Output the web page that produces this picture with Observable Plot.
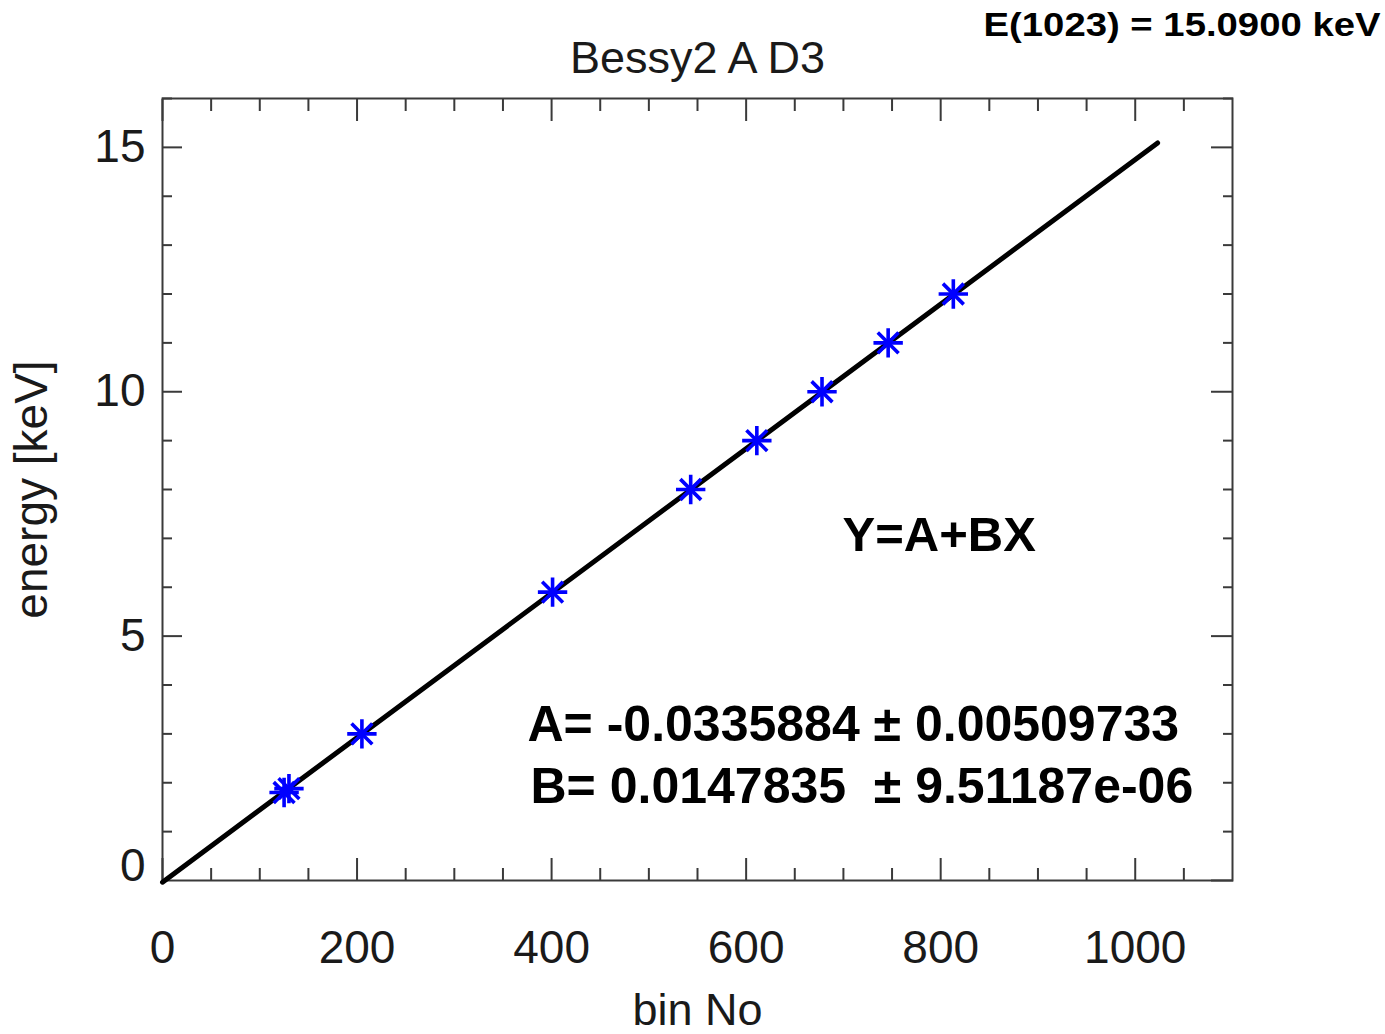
<!DOCTYPE html>
<html>
<head>
<meta charset="utf-8">
<script src="https://cdn.jsdelivr.net/npm/d3@7"></script>
<script src="https://cdn.jsdelivr.net/npm/@observablehq/plot@0.6"></script>
<style>
  html, body { margin: 0; padding: 0; background: #fff; overflow: hidden; }
  #chart svg { display: block; }
  #chart text { white-space: pre; }
</style>
</head>
<body>
<div id="chart"></div>
<script>
// ---- data ----
const binNo  = [125, 130, 205, 401, 543, 611, 678, 746, 813];
const energy = [1.80, 1.88, 3.0, 5.9, 8.0, 9.0, 10.0, 11.0, 12.0];

const fitBin    = [0, 1023];
const fitEnergy = [-0.0335884, 15.0900];

const xMajorTicks = [0, 200, 400, 600, 800, 1000];
const xMinorTicks = [50, 100, 150, 250, 300, 350, 450, 500, 550, 650, 700, 750, 850, 900, 950, 1050];
const yMajorTicks = [0, 5, 10, 15];
const yMinorTicks = [1, 2, 3, 4, 6, 7, 8, 9, 11, 12, 13, 14, 16];

const titleText  = "Bessy2 A D3";
const xLabelText = "bin No";
const yLabelText = "energy [keV]";
const topNote    = "E(1023) = 15.0900 keV";
const modelText  = "Y=A+BX";
const paramA     = "A= -0.0335884 \u00b1 0.00509733";
const paramB     = "B= 0.0147835\u00a0 \u00b1 9.51187e-06";

const points = binNo.map((b, i) => ({bin: b, energy: energy[i]}));
const fit = fitBin.map((b, i) => ({bin: b, energy: fitEnergy[i]}));

const FONT = "'Liberation Sans', Arial, Helvetica, sans-serif";
const TXT = "#1a1a1a";
const AX = "#3a3a3a";
const fmt = d => String(d);

const yLabelTicksUpper = yMajorTicks.filter(d => d !== 0);
const yLabelTicksZero = yMajorTicks.filter(d => d === 0);

const plot = Plot.plot({
  width: 1385,
  height: 1034,
  marginLeft: 162,
  marginRight: 153,
  marginTop: 98,
  marginBottom: 154,
  style: {fontFamily: FONT, color: AX, background: "#fff"},
  x: {domain: [0, 1100], label: null},
  y: {domain: [0, 16], label: null},
  marks: [
    Plot.frame({stroke: AX, strokeWidth: 2}),
    // bottom axis
    Plot.axisX(xMajorTicks, {anchor: "bottom", tickSize: -22, tickPadding: 72, tickFormat: fmt, fontSize: 46, fill: TXT, stroke: AX, strokeWidth: 2, label: null}),
    Plot.axisX(xMinorTicks, {anchor: "bottom", tickSize: -12, tickFormat: () => "", stroke: AX, strokeWidth: 2, label: null}),
    // top axis (mirrored ticks)
    Plot.axisX(xMajorTicks, {anchor: "top", tickSize: -22, tickFormat: () => "", stroke: AX, strokeWidth: 2, label: null}),
    Plot.axisX(xMinorTicks, {anchor: "top", tickSize: -12, tickFormat: () => "", stroke: AX, strokeWidth: 2, label: null}),
    // left axis
    Plot.axisY(yLabelTicksUpper, {anchor: "left", tickSize: -20, tickPadding: 37, tickFormat: fmt, fontSize: 46, fill: TXT, stroke: AX, strokeWidth: 2, label: null}),
    Plot.axisY(yLabelTicksZero, {anchor: "left", tickSize: 0, tickPadding: 17, tickFormat: fmt, dy: -14, fontSize: 46, fill: TXT, label: null}),
    Plot.axisY(yMinorTicks, {anchor: "left", tickSize: -10, tickFormat: () => "", stroke: AX, strokeWidth: 2, label: null}),
    // right axis (mirrored ticks)
    Plot.axisY(yMajorTicks, {anchor: "right", tickSize: -22, tickFormat: () => "", stroke: AX, strokeWidth: 2, label: null}),
    Plot.axisY(yMinorTicks, {anchor: "right", tickSize: -10, tickFormat: () => "", stroke: AX, strokeWidth: 2, label: null}),
    // fit line
    Plot.line(fit, {x: "bin", y: "energy", stroke: "#000", strokeWidth: 5}),
    // data points (asterisks)
    Plot.dot(points, {x: "bin", y: "energy", symbol: "plus", r: 9.5, stroke: "#0000ff", strokeWidth: 3.6}),
    Plot.dot(points, {x: "bin", y: "energy", symbol: "times", r: 9.5, stroke: "#0000ff", strokeWidth: 3.6}),
    // title and axis labels
    Plot.text([titleText], {frameAnchor: "top", dy: -26, lineAnchor: "bottom", fontSize: 45, fill: TXT, text: d => d}),
    Plot.text([xLabelText], {frameAnchor: "bottom", dy: 144, lineAnchor: "bottom", fontSize: 45, fill: TXT, text: d => d}),
    Plot.text([yLabelText], {frameAnchor: "left", dx: -130, rotate: -90, textAnchor: "middle", lineAnchor: "middle", fontSize: 46, fill: TXT, text: d => d}),
    // annotations
    Plot.text([topNote], {frameAnchor: "top-right", dx: 148, dy: -63, textAnchor: "end", lineAnchor: "bottom", fontSize: 33, fontWeight: "bold", fill: "#000", text: d => d, className: "topnote"}),
    Plot.text([modelText], {frameAnchor: "top-left", dx: 680, dy: 452, textAnchor: "start", lineAnchor: "bottom", fontSize: 49, fontWeight: "bold", fill: "#000", text: d => d}),
    Plot.text([paramA], {frameAnchor: "top-left", dx: 365, dy: 642, textAnchor: "start", lineAnchor: "bottom", fontSize: 50, fontWeight: "bold", fill: "#000", text: d => d}),
    Plot.text([paramB], {frameAnchor: "top-left", dx: 368, dy: 704, textAnchor: "start", lineAnchor: "bottom", fontSize: 50, fontWeight: "bold", fill: "#000", text: d => d})
  ]
});
// stretch the top note horizontally to match the reference width
plot.querySelectorAll(".topnote text").forEach(t => {
  t.setAttribute("textLength", "397");
  t.setAttribute("lengthAdjust", "spacingAndGlyphs");
});
document.getElementById("chart").appendChild(plot);
</script>
</body>
</html>
